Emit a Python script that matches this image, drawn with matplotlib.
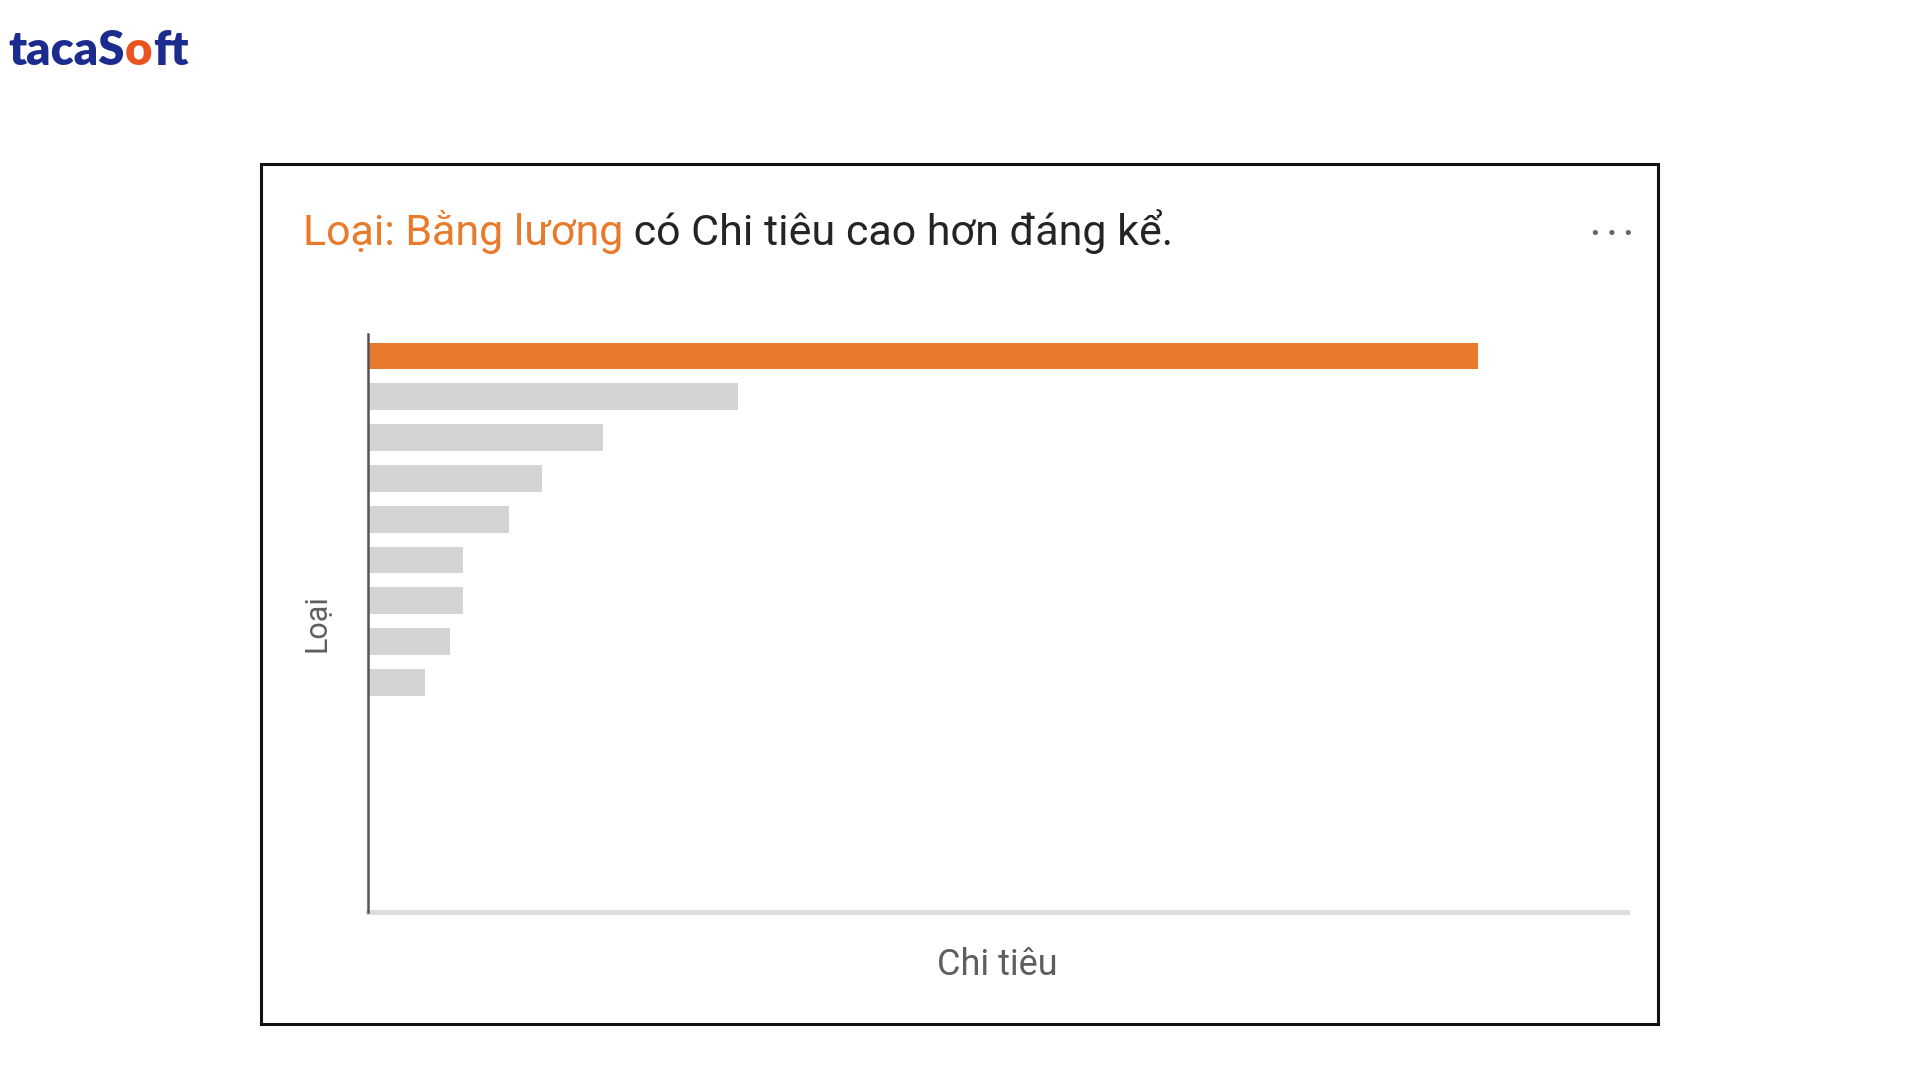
import matplotlib
matplotlib.use("Agg")
import matplotlib.pyplot as plt
from matplotlib.patches import Rectangle

# Spending by category (relative units, no tick labels shown in the source)
categories = ["Bảng lương", "Loại 2", "Loại 3", "Loại 4", "Loại 5",
              "Loại 6", "Loại 7", "Loại 8", "Loại 9"]
spending = [100.0, 33.3, 21.2, 15.7, 12.7, 8.6, 8.6, 7.4, 5.1]
highlight = "Bảng lương"

title_hl = "Loại: Bằng lương"
title_rest = " có Chi tiêu cao hơn đáng kể."
x_label = "Chi tiêu"
y_label = "Loại"

ORANGE = "#E97A2B"
GRAY_BAR = "#D4D4D4"
TEXT_DARK = "#252423"
TEXT_GRAY = "#605E5C"
NAVY = "#1B2C8E"
LOGO_FONT = ["Lato", "DejaVu Sans"]

plt.rcParams["font.family"] = ["Roboto", "DejaVu Sans"]

fig = plt.figure(figsize=(19.2, 10.8), dpi=100)
fig.patch.set_facecolor("white")

ax = fig.add_axes([368 / 1920, 1 - 912 / 1080, (1627 - 368) / 1920, (912 - 334) / 1080])
colors = [ORANGE if c == highlight else GRAY_BAR for c in categories]
ax.barh(range(len(categories)), spending, height=0.66, color=colors, zorder=2)

ax.set_xlim(0, 113.4)
ax.set_ylim(13.63, -0.54)
ax.set_xticks([])
ax.set_yticks([])

for side in ["top", "right"]:
    ax.spines[side].set_visible(False)
ax.spines["left"].set_color("#555555")
ax.spines["left"].set_linewidth(1.8)
ax.spines["left"].set_zorder(3)
ax.spines["bottom"].set_color("#DDDDDD")
ax.spines["bottom"].set_linewidth(3.6)

ax.set_xlabel(x_label, fontsize=26, color=TEXT_GRAY, va="top")
ax.xaxis.set_label_coords(0.5, -0.061)
ax.set_ylabel(y_label, fontsize=22, color=TEXT_GRAY)
ax.yaxis.set_label_coords(-0.029, 0.5)

# logo: "tacaS" + orange "o" + "ft"
logo = fig.text(0.0045, 0.9398, "tacaS", fontsize=34, fontweight="heavy",
                color=NAVY, family=LOGO_FONT, va="baseline")
lo = ax.annotate("o", xy=(1, 0), xycoords=logo, va="bottom", fontsize=34,
                 fontweight="heavy", color="#EA5320", family=LOGO_FONT,
                 annotation_clip=False)
ax.annotate("ft", xy=(1, 0), xycoords=lo, va="bottom", fontsize=34,
            fontweight="heavy", color=NAVY, family=LOGO_FONT,
            annotation_clip=False)

# card frame
fig.patches.append(Rectangle((261 / 1920, 1 - 1024 / 1080), (1658 - 261) / 1920,
                             (1024 - 164) / 1080, transform=fig.transFigure,
                             fill=False, edgecolor="#111111", linewidth=2.2))

# title in two colours
t1 = fig.text(0.1578, 0.7731, title_hl, fontsize=31, color=ORANGE, va="baseline")
ax.annotate(title_rest, xy=(1, 0), xycoords=t1, va="bottom", fontsize=31,
            color=TEXT_DARK, annotation_clip=False)

# "more options" dots
fig.text(1612 / 1920, 1 - 234 / 1080, "• • •", ha="center", va="center",
         fontsize=13, color="#666666", family=["DejaVu Sans"])

fig.savefig("out.png", dpi=100, facecolor="white")
